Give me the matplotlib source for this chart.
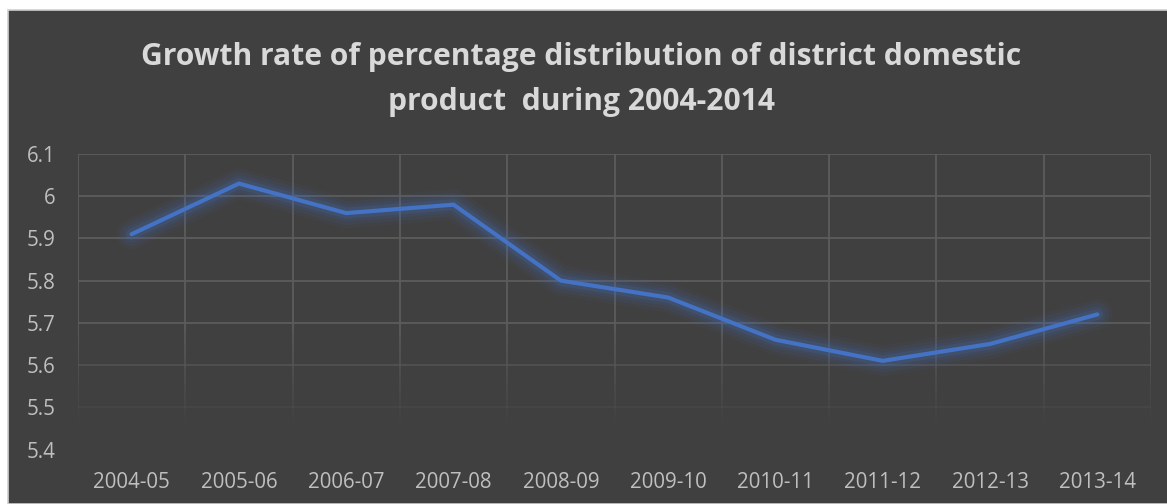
import numpy as np
import matplotlib.pyplot as plt
from matplotlib.patches import Rectangle
from matplotlib.collections import LineCollection
from matplotlib.ticker import FuncFormatter

# growth rate of district domestic product share, by year
years = ["2004-05", "2005-06", "2006-07", "2007-08", "2008-09",
         "2009-10", "2010-11", "2011-12", "2012-13", "2013-14"]
growth = [5.91, 6.03, 5.96, 5.98, 5.80, 5.76, 5.66, 5.61, 5.65, 5.72]
y_ticks = [5.4, 5.5, 5.6, 5.7, 5.8, 5.9, 6.0, 6.1]

bg = "#404040"
grid_col = (0.36, 0.36, 0.36)
line_col = "#4472C4"
text_col = "#bfbfbf"
title_col = "#d9d9d9"

plt.rcParams["font.family"] = ["Open Sans", "DejaVu Sans"]

fig = plt.figure(figsize=(11.67, 5.04), dpi=100)
fig.patch.set_facecolor("white")
fig.patches.append(Rectangle((7.5 / 1167, 0), 1.0, (504 - 10) / 504,
                             transform=fig.transFigure, facecolor=bg,
                             edgecolor="#d0d0d0", linewidth=1.2, zorder=-10))

ax = fig.add_axes([78 / 1167, (504 - 449.5) / 504, 1073 / 1167, 295.5 / 504])
ax.set_facecolor(bg)
for s in ax.spines.values():
    s.set_visible(False)

x = np.arange(len(years))
ax.set_xlim(-0.5, len(years) - 0.5)
ax.set_ylim(5.4, 6.1)


# gridlines fade out toward the bottom of the plot
def fade(y):
    return float(np.clip((y - 5.45) / 0.25, 0, 1))


for yv in y_ticks:
    ax.axhline(yv, color=grid_col, alpha=fade(yv), lw=1.3, zorder=1)

ys = np.linspace(5.4, 6.1, 60)
segs = []
cols = []
for k in range(len(years) + 1):
    xv = k - 0.5
    for i in range(len(ys) - 1):
        segs.append([(xv, ys[i]), (xv, ys[i + 1])])
        cols.append((*grid_col, fade((ys[i] + ys[i + 1]) / 2)))
ax.add_collection(LineCollection(segs, colors=cols, linewidths=1.3, zorder=1))

# soft glow behind the line
for w, a in [(22, 0.05), (17, 0.08), (12, 0.11), (8, 0.15)]:
    ax.plot(x, growth, color=line_col, lw=w, alpha=a,
            solid_capstyle="round", solid_joinstyle="round", zorder=2)
ax.plot(x, growth, color=line_col, lw=3, solid_capstyle="round",
        solid_joinstyle="miter", zorder=3)

ax.set_xticks(x)
ax.set_xticklabels(years)
ax.set_yticks(y_ticks)
ax.yaxis.set_major_formatter(FuncFormatter(lambda v, p: f"{v:g}"))
ax.tick_params(length=0, labelsize=14.8, colors=text_col)
ax.tick_params(axis="y", pad=16)
ax.tick_params(axis="x", pad=16)

fig.text(0.498, 1 - 65 / 504, "Growth rate of percentage distribution of district domestic",
         ha="center", va="baseline", fontsize=21.6, fontweight="bold", color=title_col)
fig.text(0.498, 1 - 110 / 504, "product  during 2004-2014",
         ha="center", va="baseline", fontsize=21.6, fontweight="bold", color=title_col)

fig.savefig("out.png", dpi=100, facecolor=fig.get_facecolor())
